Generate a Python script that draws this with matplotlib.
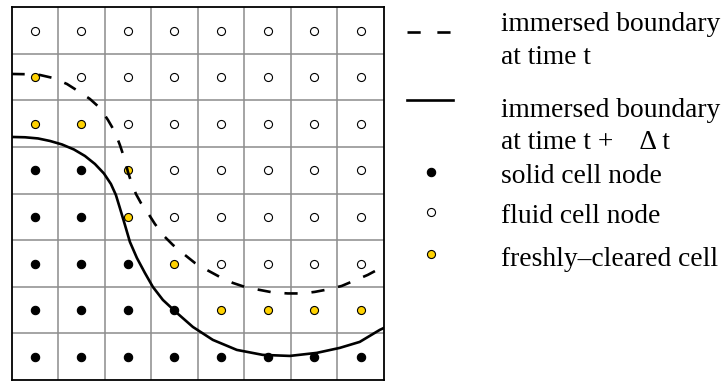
import numpy as np
import matplotlib
matplotlib.use("Agg")
import matplotlib.pyplot as plt

plt.rcParams['font.family'] = ['Liberation Serif', 'DejaVu Serif']
plt.rcParams['lines.scale_dashes'] = False

# types des noeuds, ligne par ligne (du haut vers le bas)
# f = fluide, s = solide, c = fraichement libere
noeuds = ["ffffffff",
          "cfffffff",
          "ccffffff",
          "sscfffff",
          "sscfffff",
          "ssscffff",
          "sssscccc",
          "ssssssss"]

# frontiere au temps t (pointillee), en unites de maille
front_t_x = [0.0, 0.290, 0.612, 0.891, 1.191, 1.427, 1.685, 1.899, 2.071,
             2.221, 2.328, 2.436, 2.500, 2.564, 2.672, 2.779, 2.929, 3.079,
             3.294, 3.466, 3.723, 3.938, 4.195, 4.474, 4.753, 5.011, 5.333,
             5.612, 5.933, 6.234, 6.513, 6.792, 7.092, 7.371, 7.650, 7.951, 8.0]
front_t_y = [1.431, 1.436, 1.453, 1.517, 1.646, 1.796, 1.968, 2.161, 2.418,
             2.676, 2.955, 3.277, 3.534, 3.727, 4.006, 4.200, 4.414, 4.650,
             4.929, 5.101, 5.315, 5.487, 5.637, 5.788, 5.916, 6.002, 6.067,
             6.120, 6.142, 6.142, 6.109, 6.056, 5.981, 5.863, 5.745, 5.584, 5.562]

# frontiere au temps t + dt (continue)
front_dt_x = [0.0, 0.290, 0.569, 0.826, 1.084, 1.341, 1.577, 1.792, 1.985,
              2.135, 2.242, 2.328, 2.436, 2.543, 2.693, 2.865, 3.036, 3.251,
              3.552, 3.895, 4.324, 4.839, 5.397, 5.976, 6.556, 7.049, 7.479,
              7.908, 8.0]
front_dt_y = [2.783, 2.790, 2.815, 2.869, 2.944, 3.052, 3.191, 3.363, 3.567,
              3.792, 4.028, 4.309, 4.670, 5.036, 5.380, 5.702, 6.002, 6.281,
              6.560, 6.861, 7.139, 7.354, 7.461, 7.483, 7.418, 7.311, 7.182,
              6.925, 6.882]

legende = [["immersed boundary", "at time t"],
           ["immersed boundary", "at time t +    \u0394 t"],
           ["solid cell node"],
           ["fluid cell node"],
           ["freshly\u2013cleared cell"]]

jaune = '#ffd200'
styles = {'f': dict(mfc='white', mec='black', ms=5.8, mew=0.8),
          's': dict(mfc='black', mec='black', ms=6.0, mew=0.8),
          'c': dict(mfc=jaune, mec='black', ms=5.8, mew=0.8)}

fig = plt.figure(figsize=(7.26, 3.81), dpi=100)

# grille
ax = fig.add_axes([11.5/726, 1.0/381, 372.5/726, 372.7/381])
ax.set_xlim(0, 8)
ax.set_ylim(8, 0)
for i in range(1, 8):
    ax.axvline(i, color='#8c8c8c', lw=1.1, zorder=1)
    ax.axhline(i, color='#8c8c8c', lw=1.1, zorder=1)
for s in ax.spines.values():
    s.set_linewidth(1.3)
    s.set_color('black')
ax.set_xticks([])
ax.set_yticks([])

for j, ligne in enumerate(noeuds):
    for i, t in enumerate(ligne):
        ax.plot(i + 0.5, j + 0.5, 'o', zorder=3, **styles[t])

ax.plot(front_t_x, front_t_y, color='black', lw=1.9,
        linestyle=(0, (9.5, 10)), zorder=4, solid_joinstyle='round')
ax.plot(front_dt_x, front_dt_y, color='black', lw=1.9, zorder=4,
        solid_joinstyle='round')

# legende, en pixels de la figure
lg = fig.add_axes([0, 0, 1, 1], facecolor='none')
lg.set_xlim(0, 726)
lg.set_ylim(381, 0)
lg.axis('off')

lg.plot([407, 452], [32, 32], color='black', lw=1.9, linestyle=(0, (9.5, 12)))
lg.plot([407, 453], [100, 100], color='black', lw=1.9)
lg.plot(431, 172, 'o', **styles['s'])
lg.plot(431, 212, 'o', **styles['f'])
lg.plot(431, 254, 'o', **styles['c'])

bases = [[31, 64], [117, 149], [183], [223], [266]]
for lignes, bs in zip(legende, bases):
    for txt, b in zip(lignes, bs):
        lg.text(501, b, txt, fontsize=19.8, va='baseline', ha='left')

fig.savefig('out.png', dpi=100)
